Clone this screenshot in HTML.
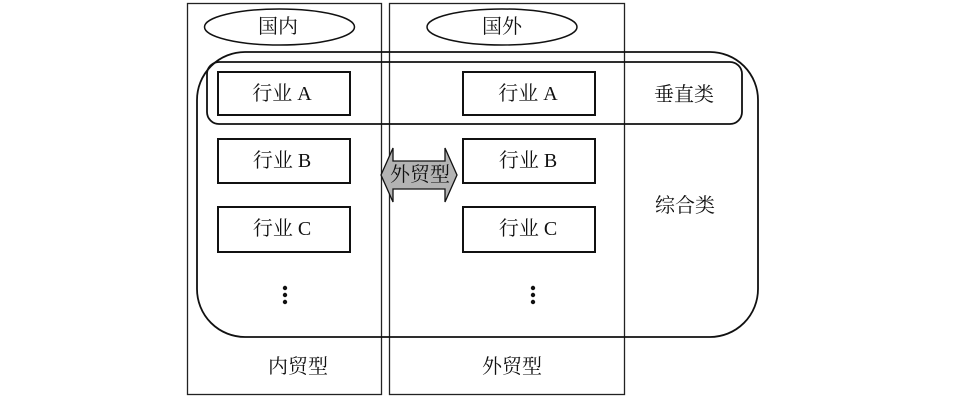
<!DOCTYPE html>
<html><head><meta charset="utf-8"><style>
html,body{margin:0;padding:0;background:#fff;}
svg{display:block;}
text{font-family:"Liberation Serif","Noto Serif CJK SC","Noto Sans CJK SC",serif;font-size:20px;fill:#111;text-anchor:middle;dominant-baseline:central;}
</style></head><body>
<svg width="955" height="401" viewBox="0 0 955 401" xmlns="http://www.w3.org/2000/svg">
<rect x="0" y="0" width="955" height="401" fill="#fff"/>
<!-- panels -->
<rect x="187.5" y="3.5" width="194" height="391" fill="none" stroke="#222" stroke-width="1.3"/>
<rect x="389.5" y="3.5" width="235" height="391" fill="none" stroke="#222" stroke-width="1.3"/>
<!-- ellipses -->
<ellipse cx="279.5" cy="27" rx="75" ry="18" fill="#fff" stroke="#111" stroke-width="1.5"/>
<text x="278" y="27">国内</text>
<ellipse cx="502" cy="27" rx="75" ry="18" fill="#fff" stroke="#111" stroke-width="1.5"/>
<text x="502" y="27">国外</text>
<!-- big rounded rect -->
<rect x="197" y="52" width="561" height="285" rx="48" ry="48" fill="none" stroke="#111" stroke-width="1.8"/>
<!-- vertical rounded rect -->
<rect x="207" y="62" width="535" height="62" rx="12" ry="12" fill="none" stroke="#111" stroke-width="1.8"/>
<!-- boxes left -->
<rect x="218" y="72" width="132" height="43" fill="#fff" stroke="#111" stroke-width="2"/>
<text x="282" y="94">行业 A</text>
<rect x="218" y="139" width="132" height="44" fill="#fff" stroke="#111" stroke-width="2"/>
<text x="282" y="161">行业 B</text>
<rect x="218" y="207" width="132" height="45" fill="#fff" stroke="#111" stroke-width="2"/>
<text x="282" y="229">行业 C</text>
<!-- boxes right -->
<rect x="463" y="72" width="132" height="43" fill="#fff" stroke="#111" stroke-width="2"/>
<text x="528" y="94">行业 A</text>
<rect x="463" y="139" width="132" height="44" fill="#fff" stroke="#111" stroke-width="2"/>
<text x="528" y="161">行业 B</text>
<rect x="463" y="207" width="132" height="45" fill="#fff" stroke="#111" stroke-width="2"/>
<text x="528" y="229">行业 C</text>
<!-- dots -->
<circle cx="285" cy="288" r="2.2" fill="#111"/>
<circle cx="285" cy="295" r="2.2" fill="#111"/>
<circle cx="285" cy="302" r="2.2" fill="#111"/>
<circle cx="533" cy="288" r="2.2" fill="#111"/>
<circle cx="533" cy="295" r="2.2" fill="#111"/>
<circle cx="533" cy="302" r="2.2" fill="#111"/>
<!-- double arrow -->
<path d="M381,175 L393,148 L393,161 L445,161 L445,148 L457,175 L445,202 L445,189 L393,189 L393,202 Z" fill="#b3b3b3" stroke="#111" stroke-width="1.3"/>
<text x="420" y="175" style="font-size:20px">外贸型</text>
<!-- labels -->
<text x="684" y="95">垂直类</text>
<text x="685" y="206">综合类</text>
<text x="298" y="367">内贸型</text>
<text x="512" y="367">外贸型</text>
</svg>
</body></html>
